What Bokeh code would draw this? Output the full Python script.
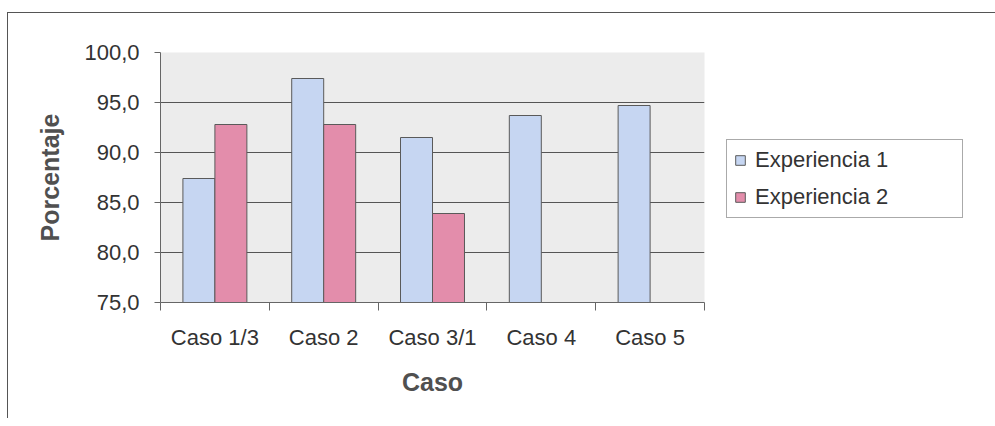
import numpy as np
from bokeh.plotting import figure
from bokeh.models import (ColumnDataSource, FixedTicker, Legend, LegendItem,
                          Range1d)
from bokeh.embed import file_html
from bokeh.resources import INLINE

# ---- data ----
categories = ["Caso 1/3", "Caso 2", "Caso 3/1", "Caso 4", "Caso 5"]
experiencia_1 = [87.4, 97.4, 91.5, 93.7, 94.7]
experiencia_2 = [92.8, 92.8, 83.9, None, None]
y_ticks = [75, 80, 85, 90, 95, 100]
y_tick_labels = ["75,0", "80,0", "85,0", "90,0", "95,0", "100,0"]
series_names = ["Experiencia 1", "Experiencia 2"]

FONT = "Liberation Sans"
BLUE = "#c6d6f2"
PINK = "#e38dab"

n = len(categories)
centers = np.arange(n) + 0.5
bw = 0.294

src1 = ColumnDataSource(dict(x=centers - bw / 2, top=experiencia_1, cat=categories))
e2 = [np.nan if v is None else v for v in experiencia_2]
src2 = ColumnDataSource(dict(x=centers + bw / 2, top=e2, cat=categories))

p = figure(width=987, height=418, output_backend="svg", toolbar_location=None,
           x_range=Range1d(0, n), y_range=Range1d(75, 100),
           frame_width=544, frame_height=250,
           min_border_left=160, min_border_right=283,
           min_border_top=52, min_border_bottom=116)
p.background_fill_color = "#ececec"
p.border_fill_color = "white"
p.border_fill_alpha = 0
p.outline_line_color = None
p.styles = {
    "background": ("linear-gradient(#555555,#555555) 7px 12px / 1px 100% no-repeat, "
                   "linear-gradient(#555555,#555555) 7px 12px / 100% 1px no-repeat, "
                   "white"),
}

r1 = p.vbar(x="x", top="top", bottom=75, width=bw, source=src1,
            fill_color=BLUE, line_color="#5a5a5a", line_width=1)
r2 = p.vbar(x="x", top="top", bottom=75, width=bw, source=src2,
            fill_color=PINK, line_color="#5a5a5a", line_width=1)

# y axis
p.yaxis.ticker = FixedTicker(ticks=y_ticks)
p.yaxis.major_label_overrides = {t: l for t, l in zip(y_ticks, y_tick_labels)}
p.yaxis.major_label_text_font = FONT
p.yaxis.major_label_text_font_size = "22px"
p.yaxis.major_label_text_color = "#333333"
p.yaxis.major_tick_out = 6
p.yaxis.major_tick_in = 0
p.yaxis.minor_tick_line_color = None
p.yaxis.major_label_standoff = 15
p.yaxis.axis_line_color = "#666666"
p.yaxis.major_tick_line_color = "#666666"
p.yaxis.axis_label = "Porcentaje"
p.yaxis.axis_label_text_font = FONT
p.yaxis.axis_label_text_font_size = "25px"
p.yaxis.axis_label_text_font_style = "bold"
p.yaxis.axis_label_text_color = "#505050"
p.yaxis.axis_label_standoff = 17

# x axis
p.xaxis.ticker = FixedTicker(ticks=list(centers), minor_ticks=list(range(n + 1)))
p.xaxis.major_label_overrides = {float(c): lab for c, lab in zip(centers, categories)}
p.xaxis.major_label_text_font = FONT
p.xaxis.major_label_text_font_size = "22px"
p.xaxis.major_label_text_color = "#333333"
p.xaxis.major_tick_out = 0
p.xaxis.major_tick_in = 0
p.xaxis.minor_tick_out = 8
p.xaxis.minor_tick_in = 0
p.xaxis.minor_tick_line_color = "#666666"
p.xaxis.major_label_standoff = 14
p.xaxis.axis_line_color = "#666666"
p.xaxis.axis_label = "Caso"
p.xaxis.axis_label_text_font = FONT
p.xaxis.axis_label_text_font_size = "25px"
p.xaxis.axis_label_text_font_style = "bold"
p.xaxis.axis_label_text_color = "#505050"
p.xaxis.axis_label_standoff = 15

# grid
p.xgrid.grid_line_color = None
p.ygrid.ticker = FixedTicker(ticks=y_ticks[1:-1])
p.ygrid.grid_line_color = "#555555"
p.ygrid.grid_line_width = 1

# legend (in right side panel, outside the plotting frame)
legend = Legend(items=[LegendItem(label=series_names[0], renderers=[r1]),
                       LegendItem(label=series_names[1], renderers=[r2])],
                location=(22, 84))
legend.label_text_font = FONT
legend.label_text_font_size = "22px"
legend.label_text_color = "#333333"
legend.glyph_width = 12
legend.glyph_height = 12
legend.label_height = 24
legend.label_width = 200
legend.label_standoff = 9
legend.padding = 7
legend.spacing = 11
legend.margin = 0
legend.border_line_color = "#555555"
legend.border_line_width = 1
legend.background_fill_color = "white"
legend.background_fill_alpha = 1
p.add_layout(legend, "right")

open("out.html", "w").write(file_html(p, INLINE))
